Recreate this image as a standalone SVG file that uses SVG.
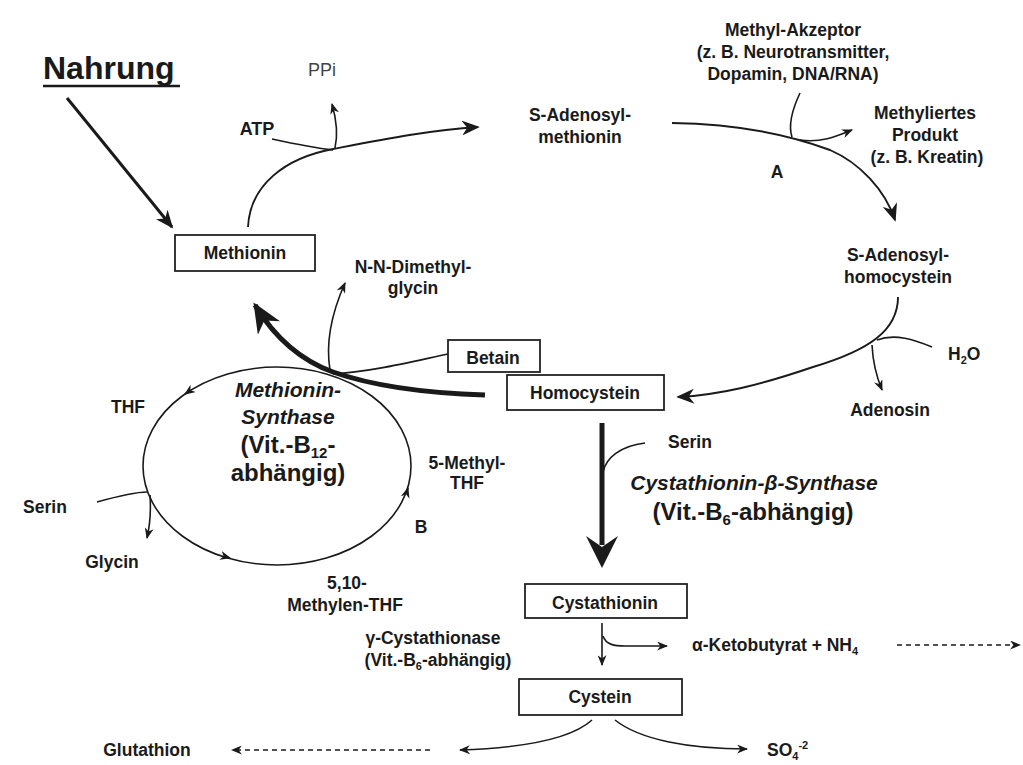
<svg xmlns="http://www.w3.org/2000/svg" width="1023" height="765" viewBox="0 0 1023 765">
<style>
.t{font-family:"Liberation Sans",Arial,sans-serif;font-weight:bold;font-size:17.5px;fill:#1a1a1a;text-anchor:middle}
.s{text-anchor:start}
.i{font-style:italic;font-size:21px}
.big{font-size:24px}
.box{fill:#fff;stroke:#222;stroke-width:1.8}
.c{fill:none;stroke:#1a1a1a;stroke-width:1.6}
.m{stroke-width:1.9}
.d{stroke-dasharray:5 4}
</style>
<defs>
<marker id="sm" viewBox="0 0 10 10" refX="9" refY="5" markerWidth="11" markerHeight="9" markerUnits="userSpaceOnUse" orient="auto" preserveAspectRatio="none"><path d="M0,0 L10,5 L0,10 L3,5 z" fill="#1a1a1a"/></marker>
<marker id="md" viewBox="0 0 10 10" refX="9" refY="5" markerWidth="18" markerHeight="15" markerUnits="userSpaceOnUse" orient="auto" preserveAspectRatio="none"><path d="M0,0 L10,5 L0,10 L3,5 z" fill="#1a1a1a"/></marker>
<marker id="lg" viewBox="0 0 10 10" refX="9" refY="5" markerWidth="30" markerHeight="26" markerUnits="userSpaceOnUse" orient="auto" preserveAspectRatio="none"><path d="M0,0 L10,5 L0,10 L3,5 z" fill="#1a1a1a"/></marker>
</defs>
<rect width="1023" height="765" fill="#fff"/>

<g id="connectors">
<path class="c" d="M67,98 L172,227" style="stroke-width:3" marker-end="url(#md)"/>
<path class="c m" d="M248,227 C250,185 285,158 333,149 C380,140 430,130 478,127" marker-end="url(#md)"/>
<path class="c" d="M272,139 C295,144 315,148 333,150"/>
<path class="c" d="M335,148 C338,135 336,118 332,104" marker-end="url(#sm)"/>
<path class="c m" d="M672,123 C740,124 790,135 830,150 C860,163 885,190 895,220" marker-end="url(#md)"/>
<path class="c" d="M800,93 C792,110 788,125 792,137"/>
<path class="c" d="M800,140 C820,143 835,137 852,130" marker-end="url(#sm)"/>
<path class="c m" d="M898,297 C898,330 870,350 813,367 C760,385 720,395 678,397" marker-end="url(#md)"/>
<path class="c" d="M877,340 C895,333 915,340 932,347"/>
<path class="c" d="M872,345 C873,365 877,378 882,390" marker-end="url(#sm)"/>
<path class="c" d="M485,395 C420,393 370,385 333,372 C300,360 275,338 255,305" style="stroke-width:5" marker-end="url(#lg)"/>
<path class="c" d="M448,354 C410,362 370,372 333,374"/>
<path class="c" d="M330,370 C325,340 333,310 345,283" marker-end="url(#sm)"/>
<ellipse class="c" cx="277" cy="466" rx="134" ry="99"/>
<path class="c" d="M188.3,391.7 L185,394" marker-end="url(#sm)"/>
<path class="c" d="M226.1,556.9 L230,558" marker-end="url(#sm)"/>
<path class="c" d="M406.8,492 L408,488" marker-end="url(#sm)"/>
<path class="c" d="M97,502 C115,497 135,492 147,492"/>
<path class="c" d="M150,495 C151,510 150,525 147,538" marker-end="url(#sm)"/>
<path class="c" d="M602,423 L602,545" style="stroke-width:5"/>
<path d="M602,568 L586,536 L602,547 L618,536 z" fill="#1a1a1a"/>
<path class="c" d="M645,443 C620,446 606,458 603,472"/>
<path class="c" d="M602,623 L602,665" marker-end="url(#sm)"/>
<path class="c" d="M603,636 C606,645 615,646 625,646 L667,646" marker-end="url(#sm)"/>
<path class="c d" d="M897,645 L1020,645" marker-end="url(#sm)"/>
<path class="c" d="M592,720 C570,740 520,748 460,750" marker-end="url(#sm)"/>
<path class="c d" d="M430,750 L232,750" marker-end="url(#sm)"/>
<path class="c" d="M615,720 C640,740 690,749 747,749" marker-end="url(#sm)"/>
</g>

<g id="nahrung">
<text class="t s" x="43" y="79" style="font-size:32px">Nahrung</text>
<line x1="43" y1="86" x2="180" y2="86" stroke="#1a1a1a" stroke-width="2.5"/>
</g>
<g id="ppi"><text class="t" x="322" y="76" style="font-weight:normal;font-size:18px;fill:#444">PPi</text></g>
<g id="atp"><text class="t" x="257" y="135" style="font-size:18px">ATP</text></g>
<g id="sam"><text class="t" x="580" y="121">S-Adenosyl-</text><text class="t" x="580" y="143">methionin</text></g>
<g id="akzeptor"><text class="t" x="793" y="36">Methyl-Akzeptor</text><text class="t" x="793" y="58">(z. B. Neurotransmitter,</text><text class="t" x="793" y="80">Dopamin, DNA/RNA)</text></g>
<g id="produkt"><text class="t" x="925" y="119">Methyliertes</text><text class="t" x="925" y="141">Produkt</text><text class="t" x="927" y="163">(z. B. Kreatin)</text></g>
<g id="labelA"><text class="t" x="777" y="178">A</text></g>
<g id="sah"><text class="t" x="898" y="261">S-Adenosyl-</text><text class="t" x="898" y="283">homocystein</text></g>
<g id="h2o"><text class="t s" x="948" y="360">H<tspan dy="4" style="font-size:11px">2</tspan><tspan dy="-4">O</tspan></text></g>
<g id="adenosin"><text class="t" x="890" y="416">Adenosin</text></g>
<g id="homocystein"><rect class="box" x="507" y="375" width="157" height="35"/><text class="t" x="585" y="399">Homocystein</text></g>
<g id="betain"><rect class="box" x="448" y="340" width="92" height="32"/><text class="t" x="493" y="364">Betain</text></g>
<g id="methionin"><rect class="box" x="175" y="235" width="140" height="36"/><text class="t" x="245" y="259">Methionin</text></g>
<g id="dmg"><text class="t" x="413" y="273">N-N-Dimethyl-</text><text class="t" x="413" y="294">glycin</text></g>
<g id="ms"><text class="t i" x="288" y="397">Methionin-</text><text class="t i" x="288" y="424">Synthase</text><text class="t big" x="288" y="453">(Vit.-B<tspan dy="5" style="font-size:15px">12</tspan><tspan dy="-5">-</tspan></text><text class="t big" x="288" y="481">abhängig)</text></g>
<g id="thf"><text class="t" x="128" y="413">THF</text></g>
<g id="mthf"><text class="t" x="467" y="469">5-Methyl-</text><text class="t" x="467" y="489">THF</text></g>
<g id="serin1"><text class="t" x="45" y="513">Serin</text></g>
<g id="glycin"><text class="t" x="112" y="568">Glycin</text></g>
<g id="labelB"><text class="t" x="421" y="533">B</text></g>
<g id="methylenthf"><text class="t" x="347" y="589">5,10-</text><text class="t" x="345" y="611">Methylen-THF</text></g>
<g id="serin2"><text class="t" x="690" y="448">Serin</text></g>
<g id="cbs"><text class="t i" x="754" y="490">Cystathionin-β-Synthase</text><text class="t big" x="753" y="520">(Vit.-B<tspan dy="5" style="font-size:15px">6</tspan><tspan dy="-5">-abhängig)</tspan></text></g>
<g id="cystathionin"><rect class="box" x="525" y="584" width="162" height="34"/><text class="t" x="605" y="609">Cystathionin</text></g>
<g id="cgl"><text class="t" x="433" y="644">γ-Cystathionase</text><text class="t" x="438" y="666">(Vit.-B<tspan dy="4" style="font-size:11px">6</tspan><tspan dy="-4">-abhängig)</tspan></text></g>
<g id="keto"><text class="t s" x="692" y="651">α-Ketobutyrat + NH<tspan dy="4" style="font-size:11px">4</tspan></text></g>
<g id="cystein"><rect class="box" x="519" y="679" width="163" height="36"/><text class="t" x="600" y="703">Cystein</text></g>
<g id="glutathion"><text class="t" x="147" y="756">Glutathion</text></g>
<g id="so4"><text class="t s" x="767" y="756">SO<tspan dy="4" style="font-size:11px">4</tspan><tspan dy="-11" style="font-size:11px">-2</tspan></text></g>
</svg>
